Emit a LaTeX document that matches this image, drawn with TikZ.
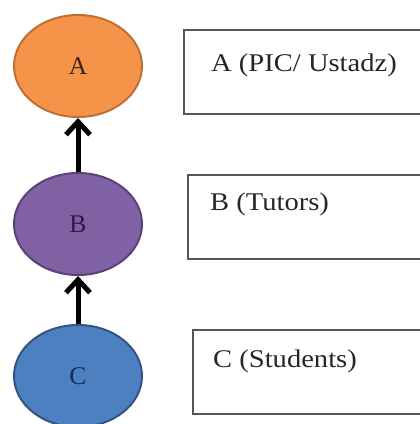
\documentclass[tikz,border=0pt]{standalone}
\usepackage{fontspec}
\setmainfont{Liberation Serif}
\usetikzlibrary{shapes.geometric,arrows.meta}

\definecolor{picfill}{RGB}{245,148,72}
\definecolor{picline}{RGB}{190,112,52}
\definecolor{pictext}{RGB}{60,35,20}
\definecolor{tutfill}{RGB}{128,98,164}
\definecolor{tutline}{RGB}{88,66,118}
\definecolor{tuttext}{RGB}{45,25,75}
\definecolor{stufill}{RGB}{76,128,192}
\definecolor{stuline}{RGB}{50,84,130}
\definecolor{stutext}{RGB}{25,40,90}
\definecolor{boxline}{RGB}{85,85,85}

\begin{document}
\begin{tikzpicture}
  [x=1pt,y=-1pt,every node/.style={font=\fontsize{25.5}{30}\selectfont}]

  \tikzstyle{role} = [ellipse, draw, line width=2pt, minimum width=128pt, minimum height=102pt, inner sep=0pt]
  \tikzstyle{box} = [rectangle, draw=boxline, line width=2pt, anchor=north west, minimum width=250pt, minimum height=84pt, inner sep=0pt]
  \tikzstyle{caption} = [anchor=base west, inner sep=0pt, xscale=1.12, text=black!85]

  \useasboundingbox (0,0) rectangle (420,424);

  \node[role, fill=picfill, draw=picline, text=pictext] (A) at (78,66)  {A};
  \node[role, fill=tutfill, draw=tutline, text=tuttext] (B) at (78,224) {B};
  \node[role, fill=stufill, draw=stuline, text=stutext] (C) at (78,376) {C};

  \node[box] (boxA) at (183,29)  {};
  \node[box] (boxB) at (187,174) {};
  \node[box] (boxC) at (192,329) {};

  \node[caption] (textA) at (211,71)  {A (PIC/ Ustadz)};
  \node[caption] (textB) at (210,210) {B (Tutors)};
  \node[caption] (textC) at (213,367) {C (Students)};

  \path[-{Straight Barb[length=13pt,width=24pt]}, line width=5pt]
        (B) edge (A)
        (C) edge (B);
\end{tikzpicture}
\end{document}
